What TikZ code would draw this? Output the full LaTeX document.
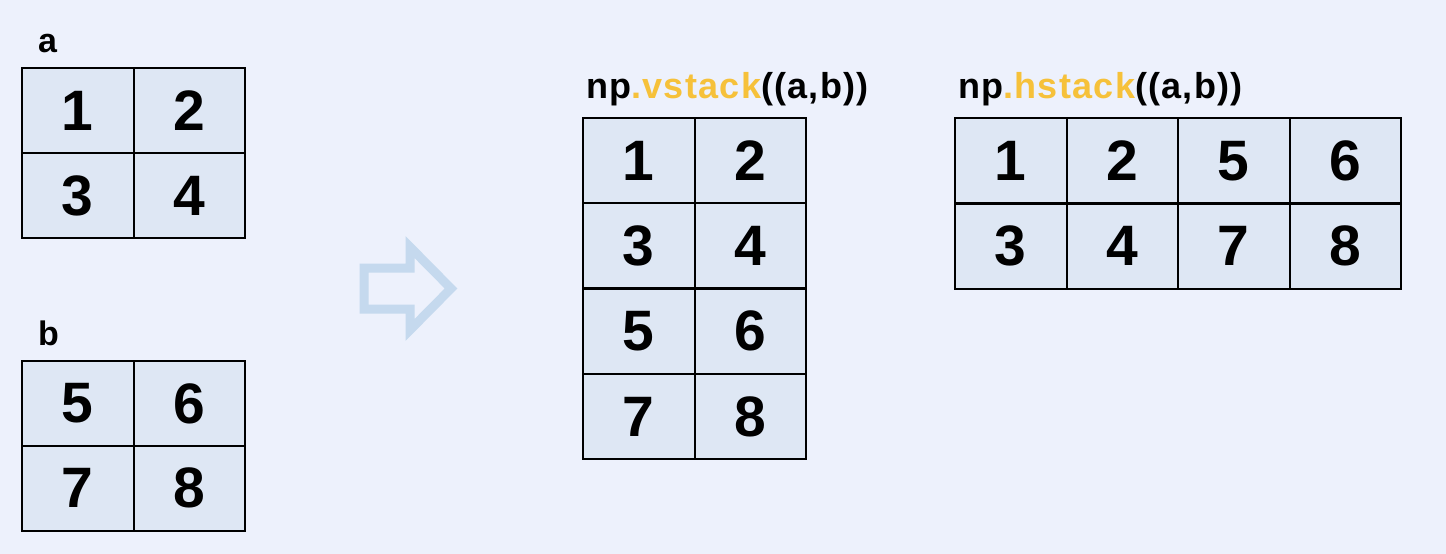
\documentclass[tikz,border=0pt]{standalone}
\usepackage{fontspec}
\setmainfont{Liberation Sans}
\usetikzlibrary{positioning}
\definecolor{bgblue}{RGB}{237,241,252}
\definecolor{cellblue}{RGB}{222,231,244}
\definecolor{arrowblue}{RGB}{197,217,238}
\definecolor{codegold}{RGB}{246,193,58}
\tikzset{
cell/.style={draw=black, line width=2pt, fill=cellblue, minimum width=111.5pt, minimum height=85pt, inner sep=0pt, font=\fontsize{57}{60}\selectfont\bfseries},
arrname/.style={anchor=base west, inner sep=0pt, font=\fontsize{34}{38}\selectfont\bfseries},
call/.style={anchor=base west, inner sep=0pt, font=\fontsize{36}{40}\selectfont\bfseries\addfontfeature{LetterSpace=3.5}},
hollow/.style={draw=arrowblue, line width=9pt, miter limit=10}
}
\begin{document}
\begin{tikzpicture}[x=1pt, y=-1pt]
\fill[bgblue] (0,0) rectangle (1446,554);
\useasboundingbox (0,0) rectangle (1446,554);
% inputs
\node[arrname] (la) at (38,52) {a};
\node[arrname] (lb) at (38,345) {b};
\node[cell] (a1) at (77.75,110.5) {1};
\node[cell] (a2) at (189.25,110.5) {2};
\node[cell] (a3) at (77.75,195.5) {3};
\node[cell] (a4) at (189.25,195.5) {4};
\node[cell] (b1) at (77.75,403.5) {5};
\node[cell] (b2) at (189.25,403.5) {6};
\node[cell] (b3) at (77.75,488) {7};
\node[cell] (b4) at (189.25,488) {8};
% arrow
\draw[hollow] (364,268) -- (410,268) -- (410,247) -- (451,288.5) -- (410,330) -- (410,309) -- (364,309) -- cycle;
% vstack
\node[call] (lv) at (586,98) {np\textcolor{codegold}{.vstack}((a,b))};
\node[cell] (v1) at (638.75,160.6) {1};
\node[cell] (v2) at (750.25,160.6) {2};
\node[cell] (v3) at (638.75,245.9) {3};
\node[cell] (v4) at (750.25,245.9) {4};
\node[cell] (v5) at (638.75,331.1) {5};
\node[cell] (v6) at (750.25,331.1) {6};
\node[cell] (v7) at (638.75,416.4) {7};
\node[cell] (v8) at (750.25,416.4) {8};
% hstack
\node[call] (lh) at (958,98) {np\textcolor{codegold}{.hstack}((a,b))};
\node[cell] (h1) at (1010.75,160.75) {1};
\node[cell] (h2) at (1122.25,160.75) {2};
\node[cell] (h3) at (1233.75,160.75) {5};
\node[cell] (h4) at (1345.25,160.75) {6};
\node[cell] (h5) at (1010.75,246.25) {3};
\node[cell] (h6) at (1122.25,246.25) {4};
\node[cell] (h7) at (1233.75,246.25) {7};
\node[cell] (h8) at (1345.25,246.25) {8};
\end{tikzpicture}
\end{document}
